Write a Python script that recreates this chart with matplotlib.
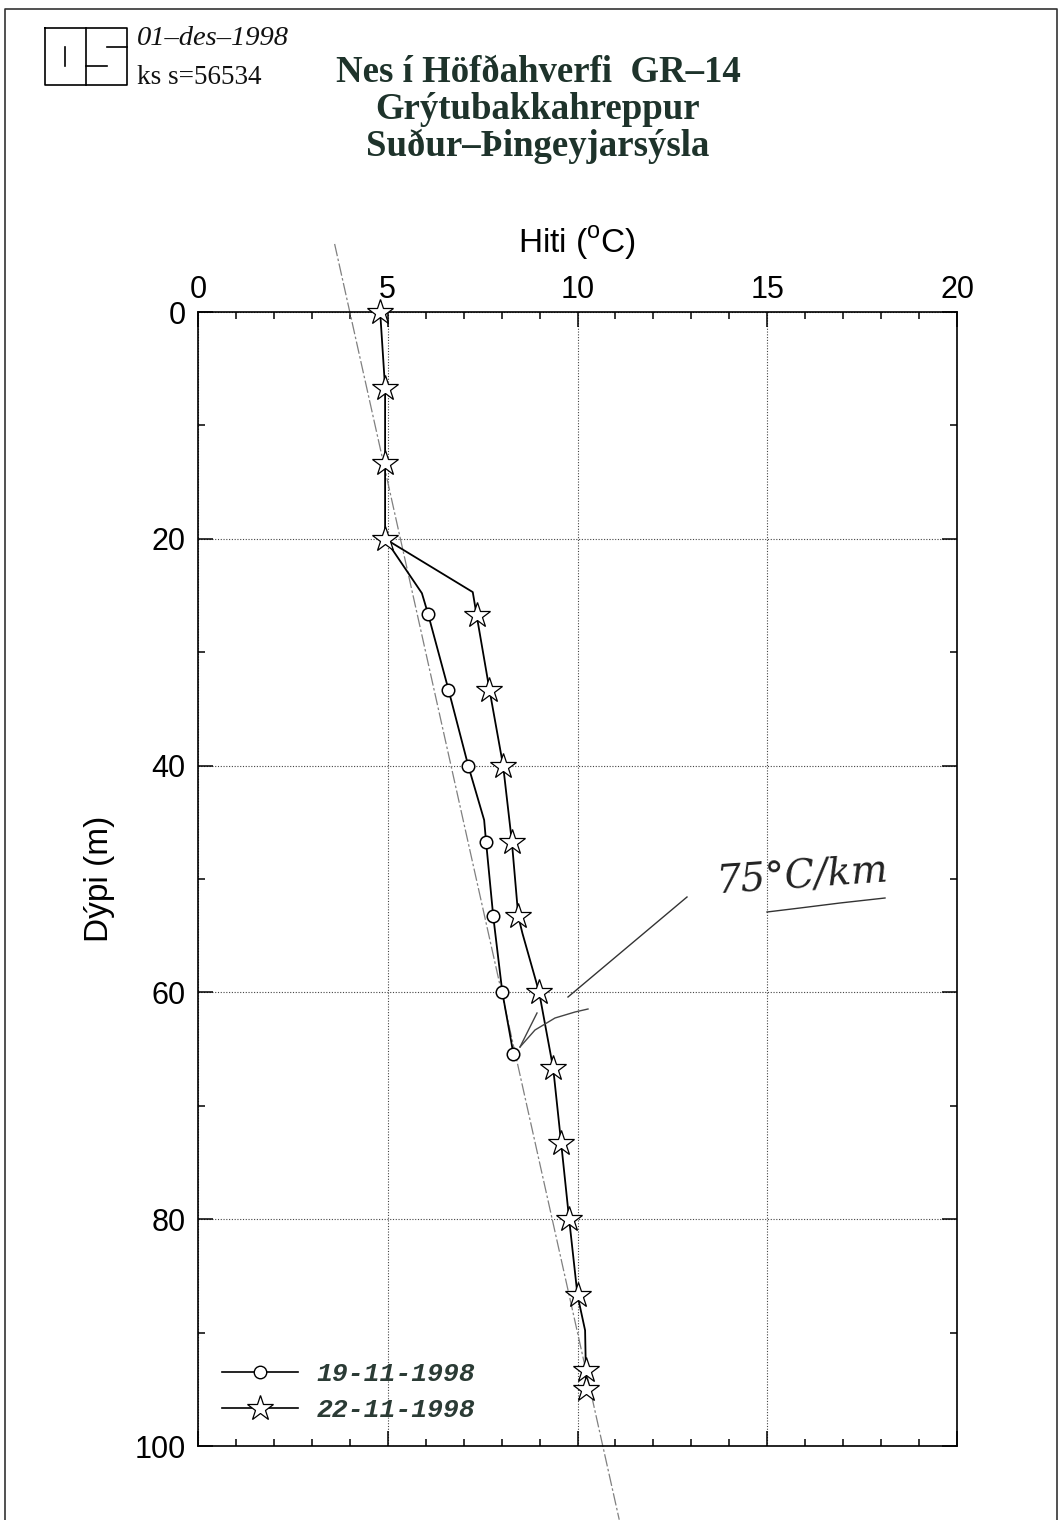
import matplotlib
matplotlib.use('Agg')
import numpy as np
import matplotlib.pyplot as plt
from matplotlib.lines import Line2D

# Hitamælingar í holu GR-14, Nes í Höfðahverfi
dypi_19 = [20, 24.8, 26.6, 33.3, 40, 44.8, 46.7, 53.3, 60, 65.4]
hiti_19 = [4.93, 5.9, 6.06, 6.6, 7.12, 7.54, 7.59, 7.78, 8.02, 8.31]
merki_19 = [2, 3, 4, 6, 7, 8, 9]          # hvaða punktar fá hring

dypi_22 = [0, 6.7, 13.3, 20, 24.7, 26.7, 33.3, 40, 46.7, 53.3, 54.8, 60,
           66.7, 73.3, 80, 86.7, 89.8, 93.3, 95]
hiti_22 = [4.8, 4.93, 4.93, 4.93, 7.24, 7.34, 7.68, 8.04, 8.27, 8.44, 8.55, 8.99,
           9.36, 9.57, 9.78, 10.0, 10.2, 10.22, 10.22]
merki_22 = [0, 1, 2, 3, 5, 6, 7, 8, 9, 11, 12, 13, 14, 15, 17, 18]

# handteiknuð hallalína (~75 °C/km)
halli_dypi = [-6, 106.5]
halli_hiti = [3.6, 11.1]

dags = ['19-11-1998', '22-11-1998']

W, H = 1062, 1520
plt.rcParams['mathtext.fontset'] = 'custom'
plt.rcParams['mathtext.rm'] = 'Liberation Sans'
fig = plt.figure(figsize=(W / 100, H / 100), dpi=100)
fig.patch.set_facecolor('white')

def px(x, y):
    return x / W, 1 - y / H

ax = fig.add_axes([198 / W, 1 - 1446 / H, (957 - 198) / W, (1446 - 312) / H])
ax.set_xlim(0, 20)
ax.set_ylim(100, 0)
ax.xaxis.tick_top()
ax.xaxis.set_label_position('top')
ax.set_xticks([0, 5, 10, 15, 20])
ax.set_xticks(np.arange(0, 21, 1), minor=True)
ax.set_yticks([0, 20, 40, 60, 80, 100])
ax.set_yticks(np.arange(0, 101, 10), minor=True)
ax.tick_params(which='both', direction='in', top=True, bottom=True, left=True, right=True,
               labeltop=True, labelbottom=False, width=1.1, color='black')
ax.tick_params(which='major', length=11, labelsize=22)
ax.tick_params(axis='x', which='major', pad=5)
ax.tick_params(axis='y', which='major', pad=9)
ax.tick_params(which='minor', length=5)
for lab in ax.get_xticklabels() + ax.get_yticklabels():
    lab.set_family('Liberation Sans')
for s in ax.spines.values():
    s.set_linewidth(1.2)
ax.grid(True, which='major', linestyle=(0, (1, 1.5)), color='#444444', lw=0.8)

ax.set_xlabel('Hiti ($^{\\mathrm{o}}$C)', fontsize=24, family='Liberation Sans', labelpad=16)
ax.set_ylabel('Dýpi (m)', fontsize=24, family='Liberation Sans', labelpad=14)

# hallalína
ax.plot(halli_hiti, halli_dypi, color='#808080', lw=0.9, ls=(0, (10, 2, 2, 2)),
        clip_on=False, zorder=2)

# mælingar
ax.plot(hiti_19, dypi_19, color='black', lw=1.3, zorder=3)
ax.plot(np.array(hiti_19)[merki_19], np.array(dypi_19)[merki_19], 'o', ms=9,
        mfc='white', mec='black', mew=1.1, zorder=4)
ax.plot(hiti_22, dypi_22, color='black', lw=1.3, zorder=3)
ax.plot(np.array(hiti_22)[merki_22], np.array(dypi_22)[merki_22], '*', ms=19,
        mfc='white', mec='black', mew=0.9, zorder=4, clip_on=False)

handles = [Line2D([], [], color='black', lw=1.2, marker='o', ms=9, mfc='white', mec='black'),
           Line2D([], [], color='black', lw=1.2, marker='*', ms=19, mfc='white', mec='black', mew=0.9)]
leg = ax.legend(handles, dags, loc='lower left', bbox_to_anchor=(0.0, 0.0), frameon=False,
                handlelength=2.9, handletextpad=0.7, labelspacing=0.45,
                prop=dict(family='Liberation Mono', weight='bold', style='italic', size=19))
for t in leg.get_texts():
    t.set_color('#2b3b35')

# titill
tcol = '#1e332b'
for txt, yb in [('Nes í Höfðahverfi  GR–14', 82), ('Grýtubakkahreppur', 119),
                ('Suður–Þingeyjarsýsla', 156)]:
    fig.text(*px(538, yb), txt, ha='center', va='baseline', fontsize=26.5,
             family='Liberation Serif', weight='bold', color=tcol)

fig.text(*px(137, 45), '01–des–1998', ha='left', va='baseline', fontsize=20.5,
         family='Liberation Serif', style='italic', color='#111111')
fig.text(*px(137, 84), 'ks s=56534', ha='left', va='baseline', fontsize=19.5,
         family='Liberation Serif', color='#111111')

# merki (OS)
def lina(xs, ys, **kw):
    f = [px(x, y) for x, y in zip(xs, ys)]
    fig.add_artist(Line2D([a for a, b in f], [b for a, b in f], transform=fig.transFigure, **kw))

lina([45, 127, 127, 45, 45], [28, 28, 85, 85, 28], color='black', lw=1.2)
lina([86, 86], [28, 85], color='black', lw=1.2)
lina([65, 65], [47, 66], color='black', lw=1.2)
lina([107, 127], [47, 47], color='black', lw=1.2)
lina([86, 107], [66, 66], color='black', lw=1.2)

# rammi
lina([5, 5, 1057, 1057], [1530, 9, 9, 1530], color='#333333', lw=1.2)

# handskrift
fig.text(*px(715, 893), '75°C/km', ha='left', va='baseline', fontsize=28,
         family='DejaVu Serif', style='italic', color='#222222', rotation=4)
lina([767, 800, 840, 885], [912, 908, 903, 898], color='#333333', lw=1.0)
lina([687, 568], [897, 997], color='#333333', lw=1.0)
lina([520, 535, 555, 575, 588], [1047, 1030, 1018, 1012, 1009], color='#444444', lw=1.0)
lina([520, 537], [1047, 1013], color='#444444', lw=1.0)

fig.savefig('out.png', dpi=100, facecolor='white')
